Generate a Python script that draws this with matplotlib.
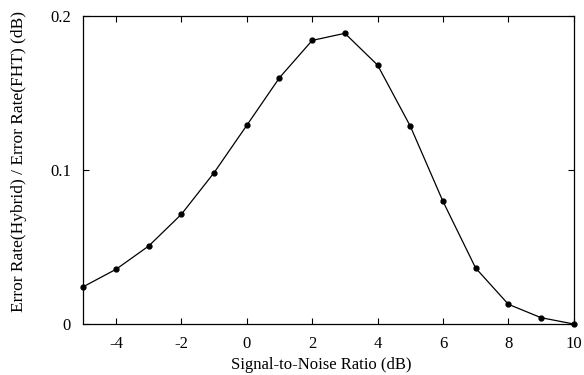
import matplotlib
matplotlib.use("Agg")
import matplotlib.pyplot as plt

snr = [-5, -4, -3, -2, -1, 0, 1, 2, 3, 4, 5, 6, 7, 8, 9, 10]
ratio = [0.0242, 0.0355, 0.0506, 0.0712, 0.0982, 0.1289, 0.1598, 0.1840, 0.1886,
         0.1680, 0.1284, 0.0796, 0.0363, 0.0128, 0.0041, 0.0]
xticks = [-4, -2, 0, 2, 4, 6, 8, 10]
xtick_labels = ["-4", "-2", "0", "2", "4", "6", "8", "10"]
yticks = [0, 0.1, 0.2]
ytick_labels = ["0", "0.1", "0.2"]

plt.rcParams['font.family'] = ['Liberation Serif', 'DejaVu Serif']
plt.rcParams['font.size'] = 12

fig = plt.figure(figsize=(5.84, 3.75), dpi=100)
ax = fig.add_axes([0.1427, 0.136, 0.9824 - 0.1427, 0.958 - 0.136])
ax.plot(snr, ratio, color='black', linewidth=0.9, marker='o', markersize=3.5,
        clip_on=False, zorder=3)
ax.set_xlim(-5, 10)
ax.set_ylim(0, 0.2)
ax.set_xticks(xticks)
ax.set_xticklabels(xtick_labels)
ax.set_yticks(yticks)
ax.set_yticklabels(ytick_labels)
ax.tick_params(direction='in', top=True, right=True, length=4, width=0.8)
ax.tick_params(axis='x', pad=9)
ax.tick_params(axis='y', pad=9)
for s in ax.spines.values():
    s.set_linewidth(0.9)
ax.set_xlabel('Signal-to-Noise Ratio (dB)')
ax.set_ylabel('Error Rate(Hybrid) / Error Rate(FHT) (dB)', fontsize=12.5)
ax.xaxis.set_label_coords(0.485, -0.108)
ax.yaxis.set_label_coords(-0.115, 0.527)
fig.savefig('out.png', dpi=100)
